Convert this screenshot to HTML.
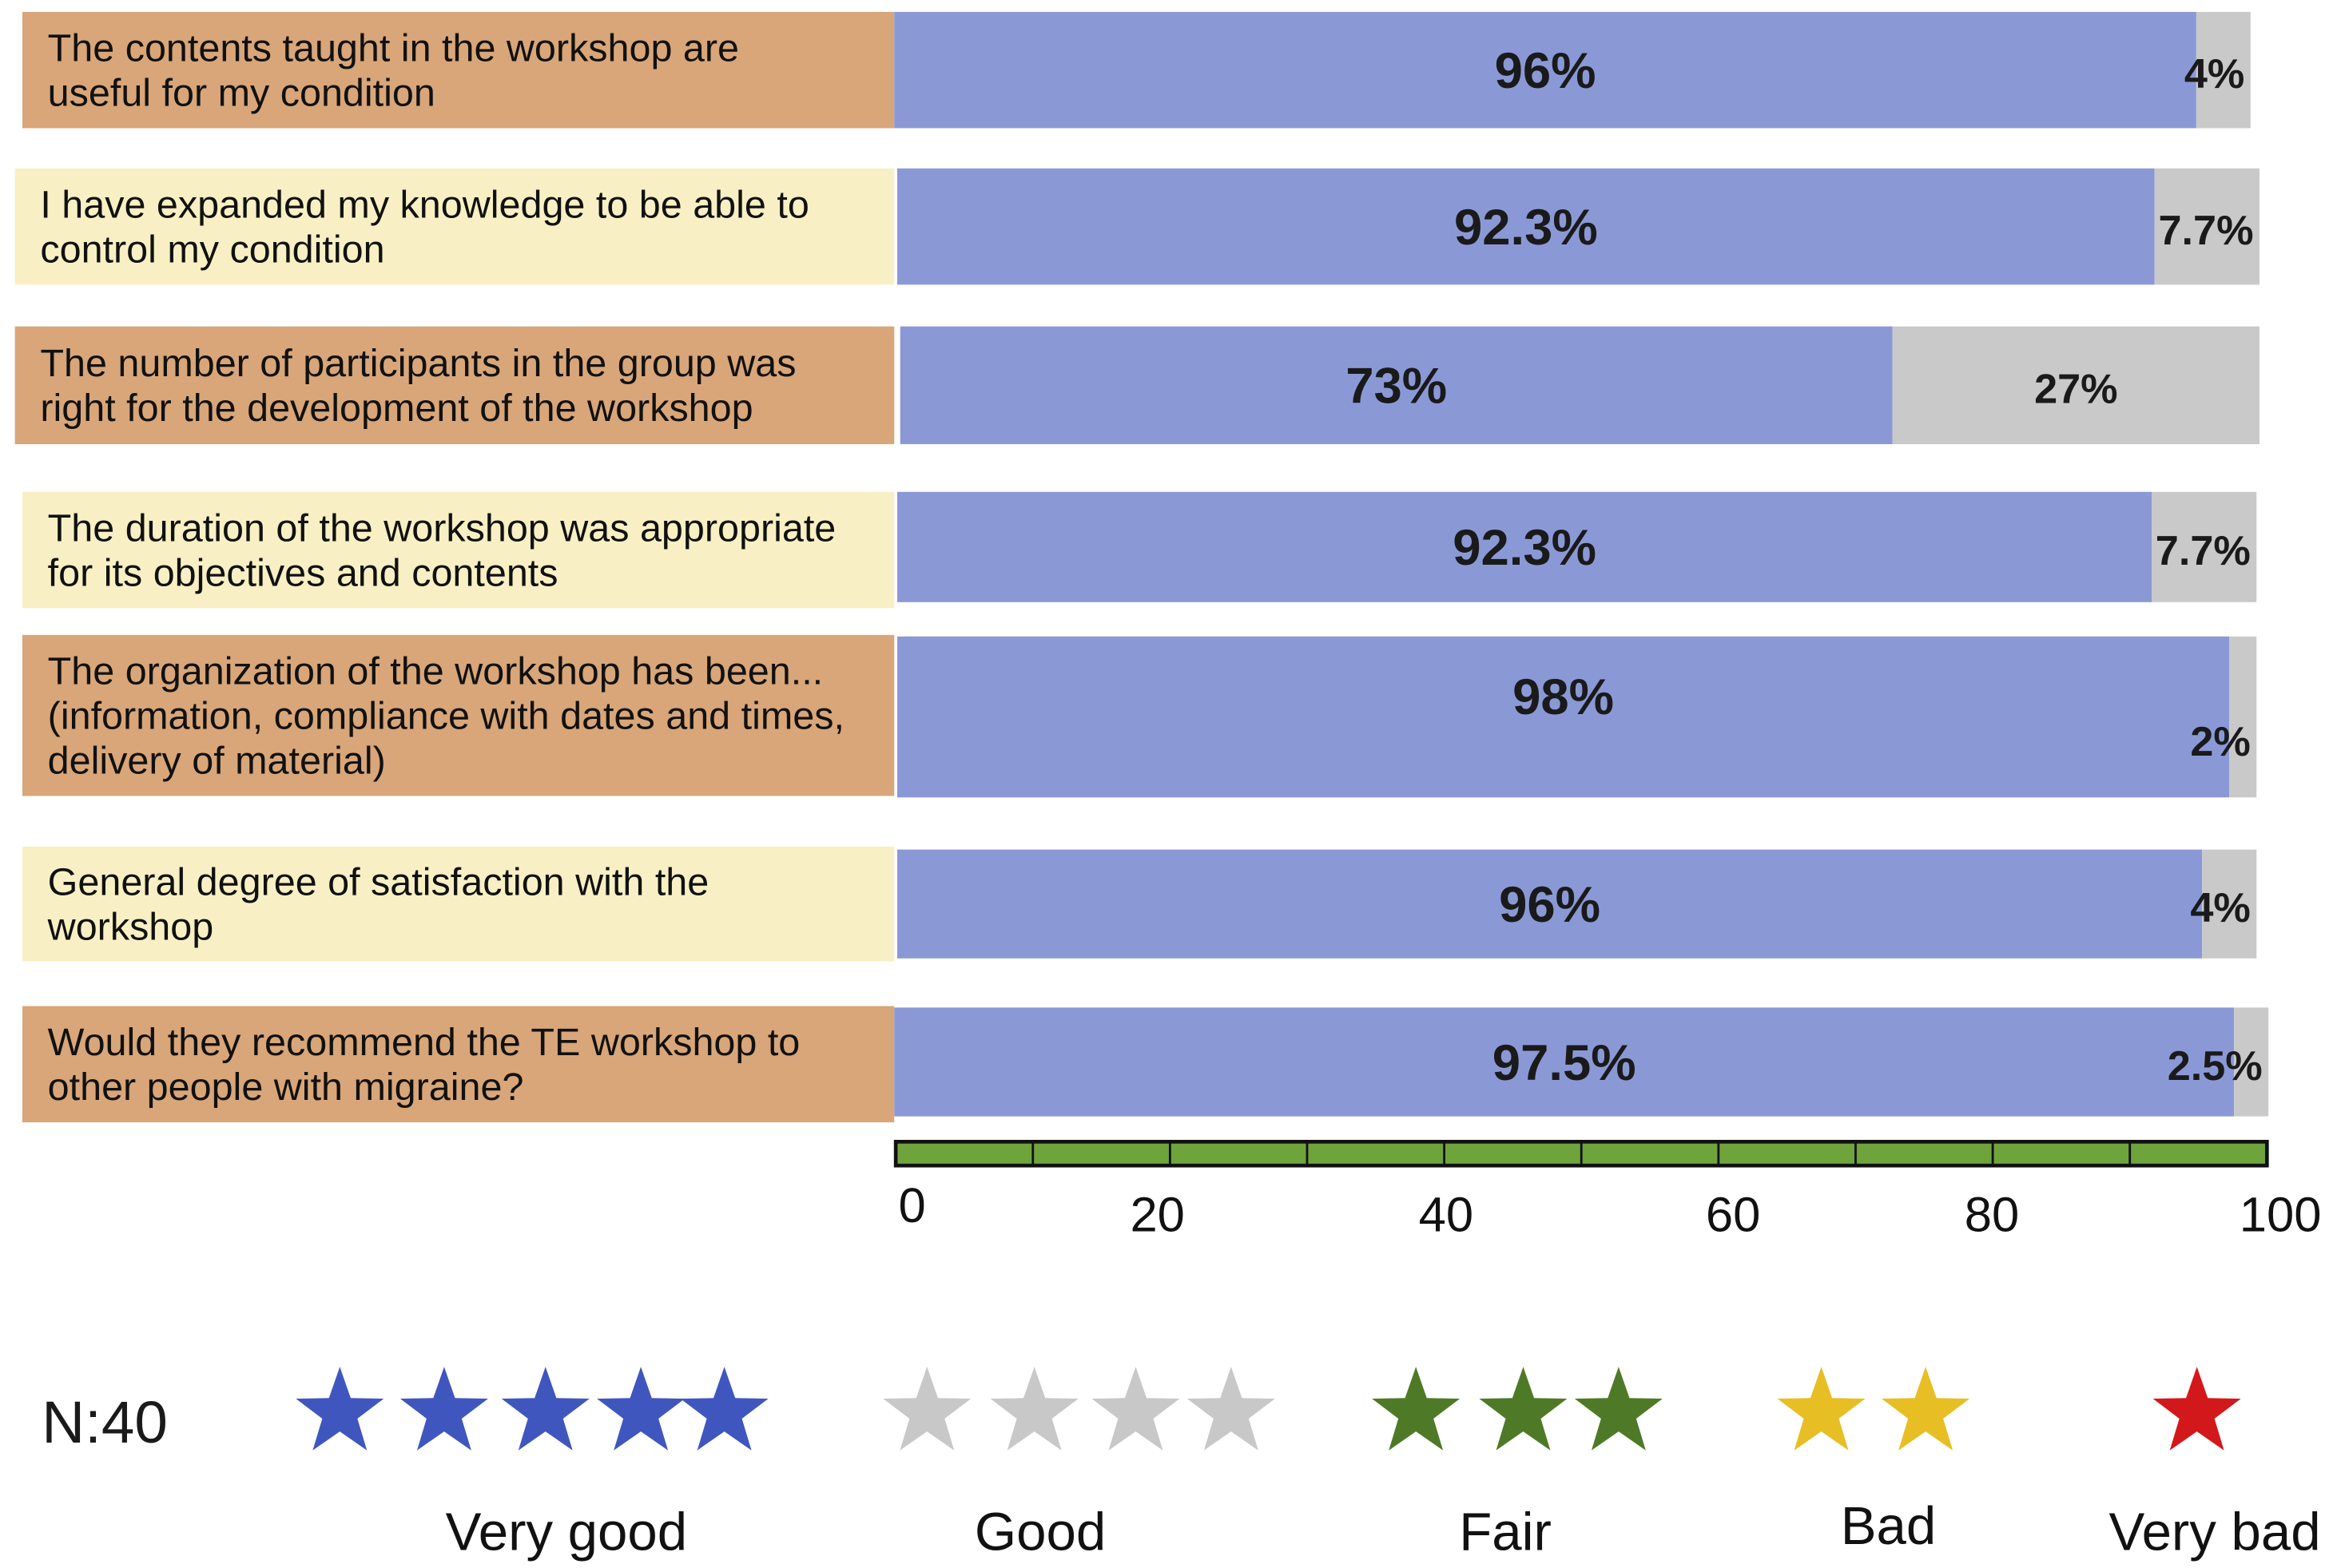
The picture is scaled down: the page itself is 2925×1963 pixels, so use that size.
<!DOCTYPE html>
<html><head><meta charset="utf-8"><style>
html,body{margin:0;padding:0;background:#fff;}
svg{display:block;font-family:"Liberation Sans",sans-serif;}
</style></head><body>
<svg id="chart" width="2925" height="1963" viewBox="0 0 1568 1052" preserveAspectRatio="none" xmlns="http://www.w3.org/2000/svg"></svg>
<script>
const categories = [
  ["The contents taught in the workshop are","useful for my condition"],
  ["I have expanded my knowledge to be able to","control my condition"],
  ["The number of participants in the group was","right for the development of the workshop"],
  ["The duration of the workshop was appropriate","for its objectives and contents"],
  ["The organization of the workshop has been...","(information, compliance with dates and times,","delivery of material)"],
  ["General degree of satisfaction with the","workshop"],
  ["Would they recommend the TE workshop to","other people with migraine?"]
];
const veryGood = [96, 92.3, 73, 92.3, 98, 96, 97.5];
const good = [4, 7.7, 27, 7.7, 2, 4, 2.5];
const veryGoodLabels = ["96%","92.3%","73%","92.3%","98%","96%","97.5%"];
const goodLabels = ["4%","7.7%","27%","7.7%","2%","4%","2.5%"];
const ticks = [0,20,40,60,80,100];
const legendNames = ["Very good","Good","Fair","Bad","Very bad"];
const legendCounts = [5,4,3,2,1];

const NS="http://www.w3.org/2000/svg";
const svg=document.getElementById('chart');
function mk(tag,attrs,parent){const e=document.createElementNS(NS,tag);for(const k in attrs)e.setAttribute(k,attrs[k]);(parent||svg).appendChild(e);return e;}
const rows=[
 {lx:15,ly:8,lh:78,bx:600,bw:910,by:8,bh:78},
 {lx:10,ly:113,lh:78,bx:602,bw:914,by:113,bh:78},
 {lx:10,ly:219,lh:79,bx:604,bw:912,by:219,bh:79},
 {lx:15,ly:330,lh:78,bx:602,bw:912,by:330,bh:74},
 {lx:15,ly:426,lh:108,bx:602,bw:912,by:427,bh:108},
 {lx:15,ly:568,lh:77,bx:602,bw:912,by:570,bh:73},
 {lx:15,ly:675,lh:78,bx:600,bw:922,by:676,bh:73}
];
const labelColors=["#d8a679","#f8f0c4"];
const xScale=(r,v)=>r.bx+v/100*r.bw;
categories.forEach((lines,i)=>{
  const r=rows[i];
  const lb=mk('rect',{x:r.lx,y:r.ly,width:600-r.lx,height:r.lh,fill:labelColors[i%2]});
  
  
  const lh=30, top=r.ly+r.lh/2-(lines.length-1)*lh/2+9;
  lines.forEach((ln,j)=>{
    const t=mk('text',{x:r.lx+17,y:top+j*lh,'font-size':26,fill:'#111'});
    t.textContent=ln;
    
    
  });
  const xEnd=xScale(r,veryGood[i]);
  const b=mk('rect',{x:r.bx,y:r.by,width:xEnd-r.bx,height:r.bh,fill:'#8a99d6'});
  
  
  const g=mk('rect',{x:xEnd,y:r.by,width:xScale(r,veryGood[i]+good[i])-xEnd,height:r.bh,fill:'#c9c9c9'});
  
  
  const cy=r.by+r.bh/2;
  const vt=mk('text',{x:(r.bx+xEnd)/2,y:cy+(i==4?-2:12),'font-size':34,'font-weight':600,'text-anchor':'middle',fill:'#1a1a1a'});
  vt.textContent=veryGoodLabels[i];
  
  
  const gx=good[i]>10?(xEnd+xScale(r,100))/2:xScale(r,100)-4;
  const gt=mk('text',{x:gx,y:cy+(i==4?26:12),'font-size':28,'font-weight':600,'text-anchor':good[i]>10?'middle':'end',fill:'#1a1a1a'});
  gt.textContent=goodLabels[i];
  
  
});
const ax={x0:601,x1:1521,y:766,h:16};
const axBar=mk('rect',{x:ax.x0,y:ax.y,width:ax.x1-ax.x0,height:ax.h,fill:'#6fa33c',stroke:'#111','stroke-width':2.5});


for(let k=1;k<10;k++){
  const x=ax.x0+k*(ax.x1-ax.x0)/10;
  const l=mk('line',{x1:x,x2:x,y1:ax.y,y2:ax.y+ax.h,stroke:'#111','stroke-width':1.5});
  
  
}
const tickPos=v=>612+v/100*(1530-612)+(v>0&&v<100?[0,-19,-9,0,-10][v/20]:0);
ticks.forEach((v)=>{
  const t=mk('text',{x:tickPos(v),y:v==0?820:826,'font-size':33,'text-anchor':'middle',fill:'#111'});
  t.textContent=v;
  
  
});
const nt=mk('text',{x:28,y:968,'font-size':40,fill:'#1a1a1a'});
nt.textContent='N:40';


const starCenters=[[228,298,366,430,486],[622,694,762,826],[950,1022,1086],[1222,1292],[1474]];
const starColors=['#4056bf','#c8c8c8','#4e7a27','#e8be25','#d3181b'];
const labelX=[380,698,1010,1267,1486];
function starPath(cx,cy,R){const r=R*0.4;let p='';for(let k=0;k<10;k++){const a=-Math.PI/2+k*Math.PI/5;const rr=k%2?r:R;p+=(k?'L':'M')+(cx+rr*Math.cos(a)).toFixed(1)+','+(cy+rr*Math.sin(a)).toFixed(1);}return p+'Z';}
legendNames.forEach((n,i)=>{
  for(let k=0;k<legendCounts[i];k++){
    const s=mk('path',{d:starPath(starCenters[i][k],948,31),fill:starColors[i]});
    
    
  }
  const t=mk('text',{x:labelX[i],y:i==3?1036:1040,'font-size':36,'text-anchor':'middle',fill:'#111'});
  t.textContent=n;
  
  
});
</script>
</body></html>
